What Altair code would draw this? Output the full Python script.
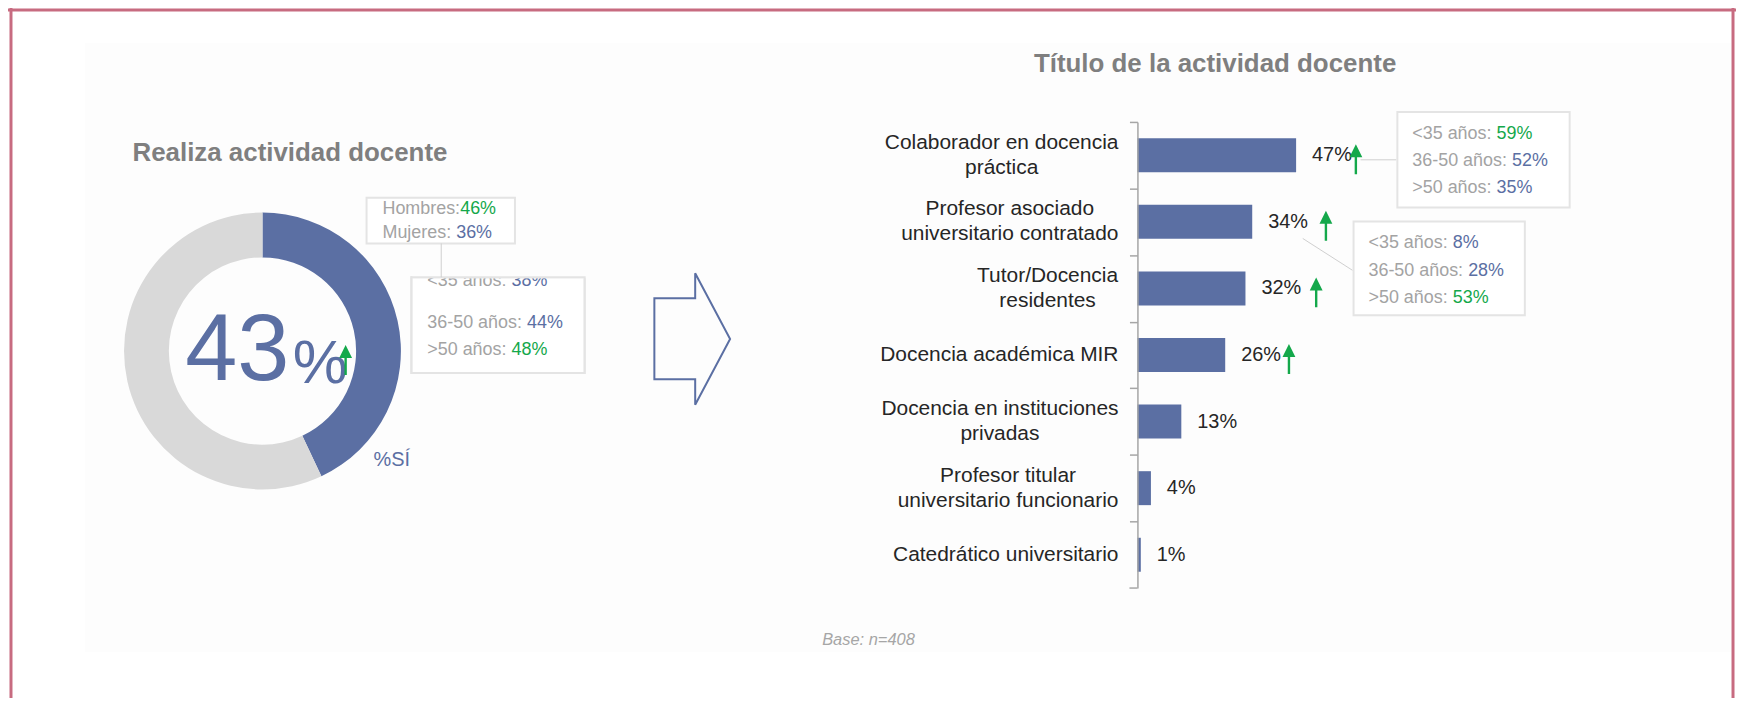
import altair as alt
import pandas as pd

# ---------------- data ----------------
donut_labels = ["Sí", "No"]
donut_values = [43, 57]

categories = [
    "Colaborador en docencia|práctica",
    "Profesor asociado|universitario contratado",
    "Tutor/Docencia|residentes",
    "Docencia académica MIR",
    "Docencia en instituciones|privadas",
    "Profesor titular|universitario funcionario",
    "Catedrático universitario",
]
bar_values = [47, 34, 32, 26, 13, 4, 1]
bar_up = [True, True, True, True, False, False, False]

gender_labels = ["Hombres:", "Mujeres: "]
gender_values = [46, 36]
gender_up = [True, False]

age_labels = ["<35 años: ", "36-50 años: ", ">50 años: "]
donut_age_values = [38, 44, 48]
donut_age_up = [False, False, True]
colab_age_values = [59, 52, 35]
colab_age_up = [True, False, False]
asoc_age_values = [8, 28, 53]
asoc_age_up = [False, False, True]

titles = ["Realiza actividad docente", "Título de la actividad docente"]
donut_caption = "%SÍ"
base_note = "Base: n=408"

# ---------------- style / layout ----------------
FONT = "Liberation Sans"
BLUE = "#5B6FA3"
RING_GREY = "#D9D9D9"
GREEN = "#14A84B"
DARK = "#262626"
LABEL_GREY = "#A3A3A3"
TITLE_GREY = "#7F7F7F"
BOX_STROKE = "#E4E4E4"
PINK = "#C76B80"
PANEL = "#FDFDFD"
CONNECT = "#CFCFCF"
AXIS_GREY = "#A6A6A6"

PAGE = 8
W_CH, H_CH = 1735, 690


def cx(v):
    return v - PAGE


AXIS_X = 1142
PX_PER_PCT = 3.39
Y_TOP, Y_BOT = 121, 589
N_CAT = len(categories)
STEP = (Y_BOT - Y_TOP) / N_CAT
ARROW_GAP_PX = [60, 74, 71, 64, 0, 0, 0]
LABEL_RIGHT = 1123
CAT_SIZE = 21
CAT_LH = 25
TICK = 8

AW = {" ": 278, "%": 889, "-": 333, "/": 278, ":": 278, "<": 584, ">": 584, "=": 584,
      "A": 667, "B": 667, "C": 722, "D": 722, "E": 667, "F": 611, "G": 778, "H": 722,
      "I": 278, "M": 833, "P": 667, "R": 722, "S": 667, "T": 611, "U": 722,
      "a": 556, "b": 556, "c": 500, "d": 556, "e": 556, "f": 278, "g": 556, "h": 556,
      "i": 222, "j": 222, "k": 500, "l": 222, "m": 833, "n": 556, "o": 556, "p": 556,
      "q": 556, "r": 333, "s": 500, "t": 278, "u": 556, "v": 500, "w": 722, "x": 500,
      "y": 500, "z": 500, "á": 556, "é": 556, "í": 278, "ñ": 556, "ó": 556, "Í": 278}


def tw(s, size):
    return sum(AW.get(c, 556) for c in s) * size / 1000.0


DUMMY = alt.Data(values=[{}])


def txt(s, x, y, size, color, align="left", baseline="middle", weight="normal", style="normal"):
    return alt.Chart(alt.Data(values=[{"t": s}])).mark_text(
        align=align, baseline=baseline, fontSize=size, fontWeight=weight,
        fontStyle=style, color=color, font=FONT
    ).encode(text="t:N", x=alt.value(cx(x)), y=alt.value(cx(y)))


def box(x1, y1, x2, y2, fill, stroke=None, sw=0):
    kw = dict(fill=fill, strokeWidth=sw)
    if stroke:
        kw["stroke"] = stroke
    return alt.Chart(DUMMY).mark_rect(**kw).encode(
        x=alt.value(cx(x1)), x2=alt.value(cx(x2)), y=alt.value(cx(y1)), y2=alt.value(cx(y2)))


def frame(x1, y1, x2, y2, stroke, sw):
    return alt.Chart(DUMMY).mark_rect(filled=False, stroke=stroke, strokeWidth=sw).encode(
        x=alt.value(cx(x1)), x2=alt.value(cx(x2)), y=alt.value(cx(y1)), y2=alt.value(cx(y2)))


def line(x1, y1, x2, y2, color, w):
    return alt.Chart(DUMMY).mark_rule(color=color, strokeWidth=w).encode(
        x=alt.value(cx(x1)), y=alt.value(cx(y1)), x2=alt.value(cx(x2)), y2=alt.value(cx(y2)))


def callout(x0, ys, labels, values, ups, size=18, baseline="middle"):
    out = []
    for y, lab, val, up in zip(ys, labels, values, ups):
        out.append(txt(lab, x0, y, size, LABEL_GREY, baseline=baseline))
        out.append(txt(f"{val}%", x0 + tw(lab, size), y, size, GREEN if up else BLUE, baseline=baseline))
    return out


SMALL_ARROW = "M0,-1L0.43,-0.13L0.08,-0.13L0.08,1L-0.08,1L-0.08,-0.13L-0.43,-0.13Z"
BIG_ARROW = "M-0.576,-0.62L0.045,-0.62L0.045,-1L0.576,0L0.045,1L0.045,0.61L-0.576,0.61Z"

# ---------------- donut ----------------
donut_df = pd.DataFrame({"label": donut_labels, "value": donut_values, "order": [0, 1]})

donut = alt.Chart(donut_df).mark_arc(innerRadius=94, outerRadius=139).encode(
    theta=alt.Theta("value:Q", stack=True),
    color=alt.Color("label:N", scale=alt.Scale(domain=donut_labels, range=[BLUE, RING_GREY]), legend=None),
    order=alt.Order("order:Q"),
    x=alt.value(cx(263.5)),
    y=alt.value(cx(351)),
)

big_num = alt.Chart(donut_df).transform_filter("datum.label == 'Sí'").mark_text(
    align="left", baseline="alphabetic", fontSize=94, color=BLUE, font=FONT
).encode(text="value:Q", x=alt.value(cx(186)), y=alt.value(cx(380)))

pct_sign = txt("%", 294, 383, 62, BLUE, baseline="alphabetic")
donut_arrow = alt.Chart(DUMMY).mark_point(
    shape=SMALL_ARROW, size=900, filled=True, color=GREEN, opacity=1, strokeWidth=0
).encode(x=alt.value(cx(347)), y=alt.value(cx(360)))

# ---------------- bars ----------------
rows = []
for cat, v, up, gap in zip(categories, bar_values, bar_up, ARROW_GAP_PX):
    rows.append({
        "category": cat,
        "value": v,
        "label": f"{v}%",
        "up": up,
        "arrow_x": v + gap / PX_PER_PCT,
    })
bar_df = pd.DataFrame(rows)

lab_rows = []
for cat in categories:
    parts = cat.split("|")
    bw = max(tw(p, CAT_SIZE) for p in parts)
    center_px = LABEL_RIGHT - bw / 2.0
    for i, p in enumerate(parts):
        lab_rows.append({"category": cat, "text": p, "n": len(parts), "idx": i,
                         "label_x": (center_px - AXIS_X) / PX_PER_PCT})
lab_df = pd.DataFrame(lab_rows)

X_SCALE = alt.Scale(domain=[0, 100], range=[cx(AXIS_X), cx(AXIS_X) + 100 * PX_PER_PCT], nice=False, zero=False)
Y_SCALE = alt.Scale(domain=categories, range=[cx(Y_TOP), cx(Y_BOT)], paddingInner=0.49, paddingOuter=0.245)
Y_AXIS = alt.Axis(offset=-cx(AXIS_X), labels=False, title=None, domainColor=AXIS_GREY, domainWidth=1.5,
                  tickColor=AXIS_GREY, tickWidth=1.5, tickSize=TICK, tickOffset=-STEP / 2.0,
                  grid=False, zindex=2)

base = alt.Chart(bar_df)
ybar = alt.Y("category:N", scale=Y_SCALE, axis=Y_AXIS, sort=categories)

bars = base.mark_bar(color=BLUE).encode(
    x=alt.X("value:Q", scale=X_SCALE, axis=None),
    y=ybar,
)
value_labels = base.mark_text(align="left", baseline="middle", dx=16, fontSize=20, color=DARK, font=FONT).encode(
    x=alt.X("value:Q", scale=X_SCALE, axis=None),
    y=ybar,
    text="label:N",
)
bar_arrows = base.transform_filter("datum.up").mark_point(
    shape=SMALL_ARROW, size=900, filled=True, color=GREEN, opacity=1, strokeWidth=0, yOffset=4
).encode(
    x=alt.X("arrow_x:Q", scale=X_SCALE, axis=None),
    y=ybar,
)


def cat_layer(flt, dy):
    return alt.Chart(lab_df).transform_filter(flt).mark_text(
        align="center", baseline="middle", fontSize=CAT_SIZE, color=DARK, font=FONT, dy=dy
    ).encode(
        x=alt.X("label_x:Q", scale=X_SCALE, axis=None),
        y=ybar,
        text="text:N",
    )


cat_labels = [
    cat_layer("datum.n == 1", 0),
    cat_layer("datum.n == 2 && datum.idx == 0", -CAT_LH / 2.0),
    cat_layer("datum.n == 2 && datum.idx == 1", CAT_LH / 2.0),
]

# ---------------- assemble ----------------
layers = [
    box(85, 42, 1738, 653, PANEL),
    line(11, 0, 11, 720, PINK, 3),
    line(0, 8.5, 1744, 8.5, PINK, 3),
    line(1740, 0, 1740, 720, PINK, 3),
    donut, big_num, pct_sign, donut_arrow,
    txt(donut_caption, 375, 460, 20, BLUE),
    txt(titles[0], 133, 152, 26, TITLE_GREY, weight="bold"),
    # donut callouts
    box(368, 197, 517, 243, "white", BOX_STROKE, 2),
    box(413, 277, 587, 373, "white", BOX_STROKE, 2),
]
layers += callout(384, [208, 233], gender_labels, gender_values, gender_up)
# first age line is cut off by the top of its box in the original
layers += callout(429, [286], age_labels[:1], donut_age_values[:1], donut_age_up[:1], baseline="alphabetic")
layers += [box(414, 250, 600, 278, PANEL), frame(413, 277, 587, 373, BOX_STROKE, 2)]
layers += callout(429, [323, 350], age_labels[1:], donut_age_values[1:], donut_age_up[1:])
layers += [line(443, 243, 443, 277, CONNECT, 1)]

# big arrow
layers += [alt.Chart(DUMMY).mark_point(
    shape=BIG_ARROW, size=132 * 132, filled=False, stroke=BLUE, strokeWidth=2, opacity=1
).encode(x=alt.value(cx(695)), y=alt.value(cx(339)))]

# bar chart
layers += [txt(titles[1], 1220, 63, 26, TITLE_GREY, align="center", weight="bold"),
           bars, value_labels, bar_arrows] + cat_labels
# closing tick at the bottom end of the category axis
layers += [line(AXIS_X - TICK, Y_BOT, AXIS_X, Y_BOT, AXIS_GREY, 1.5)]

# bar callouts
layers += [
    line(1366, 159, 1402, 159, CONNECT, 1),
    line(1308, 238, 1358, 270, CONNECT, 1),
    box(1403, 111, 1576, 207, "white", BOX_STROKE, 2),
    box(1359, 221, 1531, 315, "white", BOX_STROKE, 2),
]
layers += callout(1418, [133, 160, 187], age_labels, colab_age_values, colab_age_up)
layers += callout(1374, [243, 271, 298], age_labels, asoc_age_values, asoc_age_up)
layers += [txt(base_note, 872, 641, 16.5, "#A6A6A6", align="center", style="italic")]

chart = alt.layer(*layers).properties(
    width=W_CH, height=H_CH, padding=0,
    autosize=alt.AutoSizeParams(type="none"),
    background="white",
).configure_view(stroke=None)

chart.save("out.html", embed_options={"renderer": "svg", "actions": False})
